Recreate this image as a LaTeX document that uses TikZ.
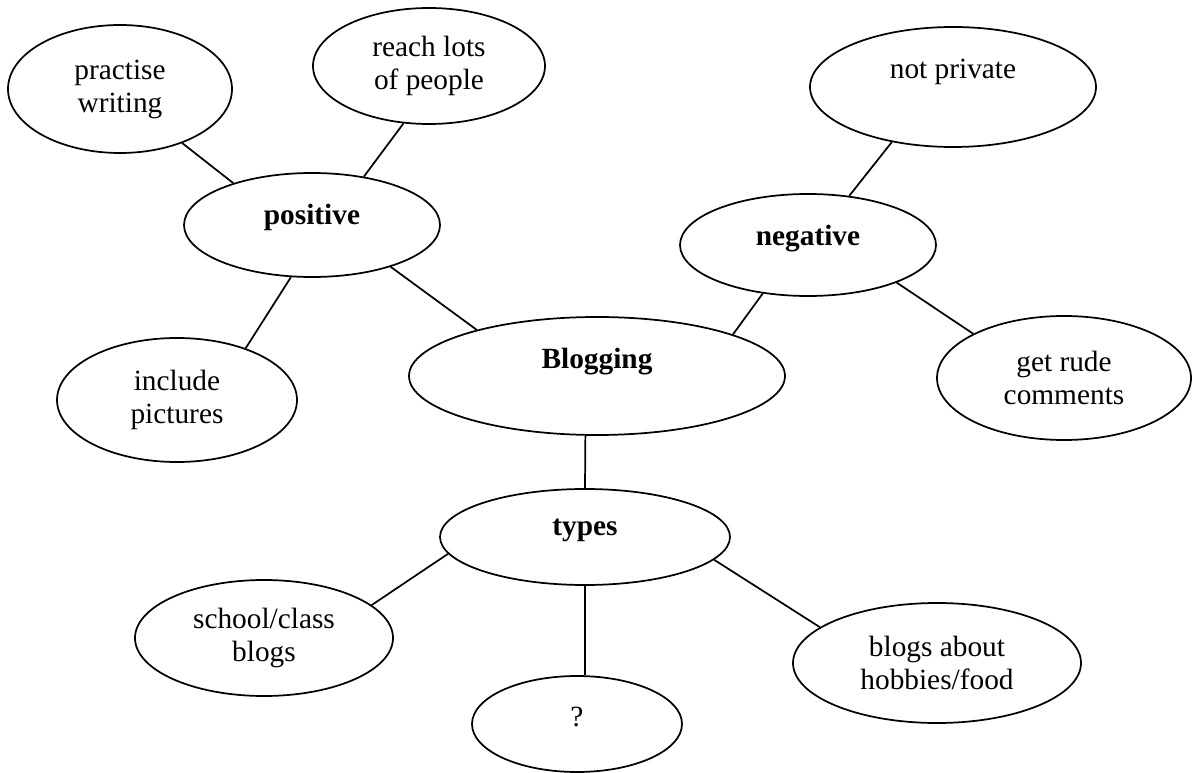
\documentclass[tikz,border=0pt]{standalone}
\usepackage{fontspec}
\setmainfont{Liberation Serif}
\usetikzlibrary{shapes.geometric}
\newcommand\bubfont{\fontsize{22}{24.75}\selectfont}
\begin{document}
\begin{tikzpicture}[x=0.75pt,y=-0.75pt,
  bub/.style 2 args={ellipse,draw,line width=1.3pt,minimum width=#1*1.5pt,minimum height=#2*1.5pt,inner sep=0pt,align=center,font=\bubfont},
  lnk/.style={line width=1.3pt}]
\useasboundingbox (0,0) rectangle (1192,773);
\node[bub={112}{64}] (practise) at (120,89) {practise\\writing};
\node[bub={116}{58}] (reach) at (429,66) {reach lots\\of people};
\node[bub={143}{60}, label={[font=\bubfont,yshift=11pt]center:not private}] (notpriv) at (953,87) {};
\node[bub={128}{52}, label={[font=\bubfont\bfseries,yshift=6pt]center:positive}] (positive) at (312,225) {};
\node[bub={128}{51}, label={[font=\bubfont\bfseries,yshift=5pt]center:negative}] (negative) at (808,245) {};
\node[bub={188}{59}, label={[font=\bubfont\bfseries,yshift=10.5pt]center:Blogging}] (blog) at (597,376) {};
\node[bub={120}{62}] (include) at (177,400) {include\\pictures};
\node[bub={127}{62}] (rude) at (1064,378) {get rude\\comments};
\node[bub={145}{48}, label={[font=\bubfont\bfseries,yshift=5pt]center:types}] (types) at (585,537) {};
\node[bub={129}{58}] (school) at (264,638) {school/class\\blogs};
\node[bub={105}{48}, label={[font=\bubfont,yshift=5pt]center:?}] (q) at (577,724) {};
\node[bub={144}{60}] (hobbies) at (937,663) {blogs about\\hobbies/food};
\draw[lnk] (practise.-41.6) -- (positive.152.3);
\draw[lnk] (positive.43.9) -- (reach.246.3);
\draw[lnk] (positive.-112) -- (include.37.8);
\draw[lnk] (positive.-28.3) -- (blog.159.3);
\draw[lnk] (negative.50.9) -- (notpriv.-138.4);
\draw[lnk] (negative.-133.8) -- (blog.17.2);
\draw[lnk] (negative.-23.4) -- (rude.154.4);
\draw[lnk] (blog.-101.5) -- (types.north);
\draw[lnk] (types.-173) -- (school.17.6);
\draw[lnk] (types.south) -- (types.south |- q.north);
\draw[lnk] (types.-10.2) -- (hobbies.163.5);
\end{tikzpicture}
\end{document}
